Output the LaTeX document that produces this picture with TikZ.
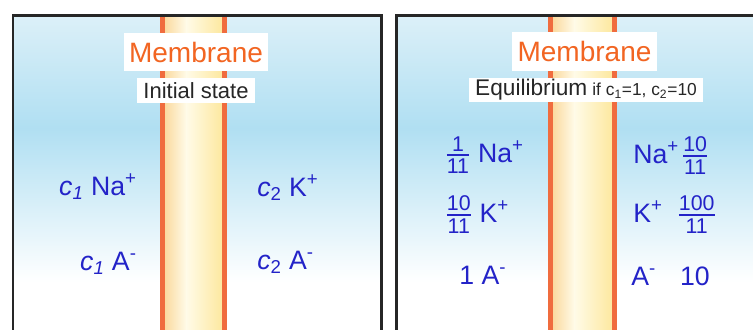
\documentclass[tikz,border=0pt]{standalone}
\usepackage{amsmath}
\usepackage{fontspec}
\setmainfont{Liberation Sans}
\usetikzlibrary{positioning}

\definecolor{ionblue}{RGB}{35,35,200}
\definecolor{memorange}{RGB}{242,101,34}
\definecolor{memred}{RGB}{240,108,62}
\definecolor{seatop}{RGB}{220,240,248}
\definecolor{seamid}{RGB}{176,223,242}
\definecolor{memedge}{RGB}{251,218,160}
\definecolor{memlight}{RGB}{255,251,232}
\definecolor{memyellow}{RGB}{253,232,160}

\newcommand{\ionfrac}[2]{$\genfrac{}{}{2pt}{1}{\text{\fontsize{16}{16}\selectfont #1}}{\text{\fontsize{16}{16}\selectfont #2}}$}

\begin{document}
\begin{tikzpicture}[x=0.75pt, y=-0.75pt, line width=2pt,
                memlabel/.style={fill=white, text=memorange, font=\fontsize{21}{21}\selectfont,
                                 inner xsep=4pt, inner ysep=0pt, minimum height=29pt},
                statelabel/.style={fill=white, text=black!85, inner xsep=4.5pt, inner ysep=0pt,
                                   minimum height=18.5pt},
                ion/.style={text=ionblue, font=\fontsize{20}{20}\selectfont, inner sep=0pt}
            ]

\clip (0,0) rectangle (753,329);

% --- left panel: solution background ---
                \shade[top color=seatop, bottom color=seamid] (13,15) rectangle (381.5,128.5);
                \shade[top color=seamid, bottom color=white] (13,128) rectangle (381.5,282);

% --- left panel: membrane ---
                \shade[left color=memedge, right color=memlight] (165,15) rectangle (186.5,340);
                \shade[left color=memlight, right color=memyellow] (186,15) rectangle (222,340);
                \fill[memred] (160,15) rectangle (165,340);
                \fill[memred] (222,15) rectangle (227,340);
                \draw[black!85] (13,340) -- (13,15.5) -- (381.5,15.5) -- (381.5,340);

% --- right panel: solution background ---
                \shade[top color=seatop, bottom color=seamid] (396.5,15) rectangle (760,128.5);
                \shade[top color=seamid, bottom color=white] (396.5,128) rectangle (760,282);

% --- right panel: membrane ---
                \shade[left color=memedge, right color=memlight] (553,15) rectangle (574.5,340);
                \shade[left color=memlight, right color=memyellow] (574,15) rectangle (612,340);
                \fill[memred] (548,15) rectangle (553,340);
                \fill[memred] (612,15) rectangle (617,340);
                \draw[black!85] (396.5,340) -- (396.5,15.5) -- (760,15.5);

% --- titles ---
                \node[memlabel] (memA) at (196,52) {Membrane};
                \node[statelabel, font=\fontsize{16.5}{16.5}\selectfont] (initial) at (196,90.5) {Initial state};
                \node[memlabel] (memB) at (584.5,51.5) {Membrane};
                \node[statelabel, inner xsep=5pt] (equil) at (586,90)
                    {{\fontsize{17}{17}\selectfont Equilibrium}\hspace{1pt} {\fontsize{13}{13}\selectfont if c\textsubscript{1}=1, c\textsubscript{2}=10}};

% --- initial state ions ---
                \node[ion, anchor=base east] (naA) at (138,195) {\textit{c}\textsubscript{\textit{1}} Na\textsuperscript{+}};
                \node[ion, anchor=base east] (anA) at (138,270) {\textit{c}\textsubscript{\textit{1}} A\textsuperscript{-}};
                \node[ion, anchor=base west] (kA)  at (256,196) {\textit{c}\textsubscript{2} K\textsuperscript{+}};
                \node[ion, anchor=base west] (anB) at (256,269) {\textit{c}\textsubscript{2} A\textsuperscript{-}};

% --- equilibrium ions ---
                \node[ion, anchor=base west] (naL) at (444,162) {\ionfrac{1}{11} Na\textsuperscript{+}};
                \node[ion, anchor=base west] (kL)  at (444,222) {\ionfrac{10}{11} K\textsuperscript{+}};
                \node[ion, anchor=base west] (anL) at (458,284) {1 A\textsuperscript{-}};
                \node[ion, anchor=base west] (naR) at (632,163) {Na\textsuperscript{+}\hspace{2pt}\ionfrac{10}{11}};
                \node[ion, anchor=base west] (kR)  at (632,222) {K\textsuperscript{+}\hspace{11pt}\ionfrac{100}{11}};
                \node[ion, anchor=base west] (anR) at (630,285) {A\textsuperscript{-}\hspace{18pt}10};

            \end{tikzpicture}
\end{document}
